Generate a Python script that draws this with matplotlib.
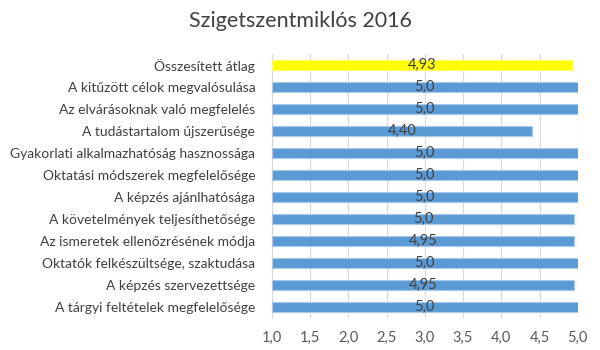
import matplotlib
matplotlib.use("Agg")
import matplotlib.pyplot as plt

title = "Szigetszentmiklós 2016"
categories = [
    "Összesített átlag",
    "A kitűzött célok megvalósulása",
    "Az elvárásoknak való megfelelés",
    "A tudástartalom újszerűsége",
    "Gyakorlati alkalmazhatóság hasznossága",
    "Oktatási módszerek megfelelősége",
    "A képzés ajánlhatósága",
    "A követelmények teljesíthetősége",
    "Az ismeretek ellenőzrésének módja",
    "Oktatók felkészültsége, szaktudása",
    "A képzés szervezettsége",
    "A tárgyi feltételek megfelelősége",
]
values = [4.93, 5.0, 5.0, 4.40, 5.0, 5.0, 5.0, 4.95, 4.95, 5.0, 4.95, 5.0]
value_labels = ["4,93", "5,0", "5,0", "4,40", "5,0", "5,0", "5,0", "5,0", "4,95", "5,0", "4,95", "5,0"]
ticks = [1.0, 1.5, 2.0, 2.5, 3.0, 3.5, 4.0, 4.5, 5.0]
tick_labels = ["1,0", "1,5", "2,0", "2,5", "3,0", "3,5", "4,0", "4,5", "5,0"]

plt.rcParams['font.family'] = ['Lato', 'DejaVu Sans']

fig = plt.figure(figsize=(6, 3.5), dpi=100)
ax = fig.add_axes([0.453, 0.091, 0.51, 0.755])

colors = ["#FFFF00"] + ["#5B9BD5"] * (len(categories) - 1)
edges = ["#FFFF66"] + ["#A9C8EA"] * (len(categories) - 1)
ypos = list(range(len(categories)))
xmin = 1.0
bars = ax.barh(ypos, [v - xmin for v in values], left=xmin, height=0.47,
               color=colors, edgecolor=edges, linewidth=0.8, zorder=3)
for y, v, lab in zip(ypos, values, value_labels):
    ax.text((xmin + v) / 2, y, lab, ha="center", va="center",
            fontsize=10.5, color="#404040", zorder=4)

ax.set_xlim(1.0, 5.0)
ax.set_ylim(len(categories) - 0.5, -0.5)
ax.set_yticks(ypos)
ax.set_yticklabels(categories, fontsize=10, color="#404040")
ax.set_xticks(ticks)
ax.set_xticklabels(tick_labels, fontsize=10.5, color="#595959")
ax.tick_params(axis="both", length=0)
ax.tick_params(axis="y", pad=12)
ax.tick_params(axis="x", pad=9)
ax.grid(axis="x", color="#D9D9D9", linewidth=0.8, zorder=0)
for s in ["top", "right", "bottom"]:
    ax.spines[s].set_visible(False)
ax.spines["left"].set_color("#D9D9D9")
ax.spines["left"].set_linewidth(0.8)

fig.text(0.5, 0.94, title, ha="center", va="center", fontsize=15.5, color="#404040")

fig.savefig("out.png", dpi=100)
